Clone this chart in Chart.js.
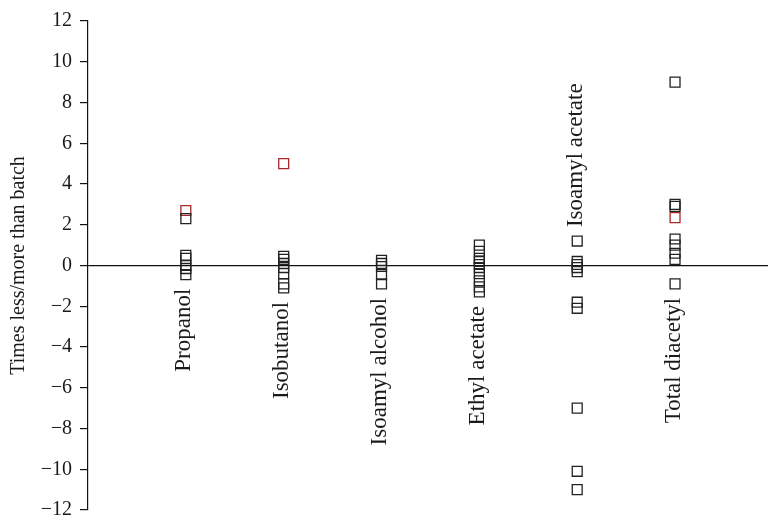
<!DOCTYPE html>
<html lang="en">
<head>
  <meta charset="UTF-8">
  <title>Times less/more than batch</title>
  <style>
    html, body{
      margin: 0;
      padding: 0;
      background: #fff;
    }
    .canvas-con{
      width: 768px;
      height: 517px;
    }
  </style>
</head>
<body>
  <div class="canvas-con">
    <canvas id="myChart"></canvas>
  </div>

  <script src="https://cdn.jsdelivr.net/npm/chart.js"></script>
  <script>
  const categories = ['Propanol', 'Isobutanol', 'Isoamyl alcohol', 'Ethyl acetate', 'Isoamyl acetate', 'Total diacetyl']
  // black squares, one list per compound
  const blackValues = [
    [2.3, 0.5, 0.35, 0, -0.15, -0.45],
    [0.45, 0.3, 0.1, -0.1, -0.4, -0.9, -1.1],
    [0.25, 0.1, -0.05, -0.45, -0.9],
    [1.0, 0.7, 0.35, 0.2, 0.05, -0.1, -0.4, -0.75, -1.05, -1.3],
    [1.2, 0.2, 0.05, -0.1, -0.3, -1.8, -2.1, -7.0, -10.1, -11.0],
    [9.0, 3.0, 2.9, 1.3, 1.0, 0.6, 0.3, -0.9]
  ]
  // red squares
  const redValues = [[2.7], [5.0], [], [], [], [2.35]]
  const yTicks = [-12, -10, -8, -6, -4, -2, 0, 2, 4, 6, 8, 10, 12]
  // label goes above the points instead of below
  const labelAbove = [false, false, false, false, true, false]

  const toPoints = (lists) => {
    const pts = []
    lists.forEach((vals, i) => {
      vals.forEach(v => pts.push({x: i + 1, y: v}))
    })
    return pts
  }

  const serif = "'Liberation Serif', 'DejaVu Serif', serif"

  const categoryLabels = {
    id: 'category_labels',
    afterDatasetsDraw: (chart) => {
      const ctx = chart.ctx
      const xs = chart.scales.x
      const ys = chart.scales.y
      ctx.save()
      ctx.font = '23px ' + serif
      ctx.fillStyle = '#1a1a1a'
      ctx.textBaseline = 'middle'
      categories.forEach((name, i) => {
        const all = blackValues[i].concat(redValues[i])
        const x = xs.getPixelForValue(i + 1) - 1.5
        ctx.save()
        if (labelAbove[i]) {
          const y = ys.getPixelForValue(Math.max(...all)) - 14
          ctx.translate(x, y)
          ctx.rotate(-Math.PI / 2)
          ctx.textAlign = 'left'
        } else {
          const y = ys.getPixelForValue(Math.min(...all)) + 14
          ctx.translate(x, y)
          ctx.rotate(-Math.PI / 2)
          ctx.textAlign = 'right'
        }
        ctx.fillText(name, 0, 0)
        ctx.restore()
      })
      ctx.restore()
    }
  }

  let myChart = new Chart(document.getElementById('myChart'), {
    type: 'scatter',
    data: {
      datasets: [
        {
          label: 'batch',
          data: toPoints(blackValues),
          pointStyle: 'rect',
          pointRadius: 7,
          pointHoverRadius: 7,
          borderColor: '#222',
          backgroundColor: 'rgba(0,0,0,0)',
          borderWidth: 1.3
        },
        {
          label: 'red',
          data: toPoints(redValues),
          pointStyle: 'rect',
          pointRadius: 7,
          pointHoverRadius: 7,
          borderColor: '#a8282a',
          backgroundColor: 'rgba(0,0,0,0)',
          borderWidth: 1.3
        }
      ]
    },
    options: {
      responsive: true,
      maintainAspectRatio: false,
      animation: false,
      layout: {
        autoPadding: false,
        padding: {top: 21, bottom: 7, left: 0, right: 0}
      },
      plugins: {
        legend: {display: false},
        tooltip: {enabled: false}
      },
      scales: {
        x: {
          type: 'linear',
          min: 0,
          max: 6.95,
          display: false
        },
        y: {
          min: -12,
          max: 12,
          afterBuildTicks: (scale) => {
            scale.ticks = yTicks.map(v => ({value: v}))
          },
          afterFit: (scale) => {
            scale.width = 88
            scale.paddingTop = 0
            scale.paddingBottom = 0
          },
          border: {display: true, color: '#111', width: 1.2},
          grid: {
            drawOnChartArea: true,
            drawTicks: true,
            tickLength: 8,
            tickColor: '#111',
            lineWidth: 1.2,
            color: (c) => (c.tick && c.tick.value === 0 ? '#111' : 'rgba(0,0,0,0)')
          },
          ticks: {
            padding: 8,
            color: '#1a1a1a',
            font: {family: serif, size: 20, lineHeight: 0.7},
            callback: (v) => (v < 0 ? '\u2212' + Math.abs(v) : String(v))
          },
          title: {
            display: true,
            text: 'Times less/more than batch',
            color: '#1a1a1a',
            font: {family: serif, size: 20},
            padding: {top: 7, bottom: 0}
          }
        }
      }
    },
    plugins: [categoryLabels]
  })
  </script>
</body>
</html>
